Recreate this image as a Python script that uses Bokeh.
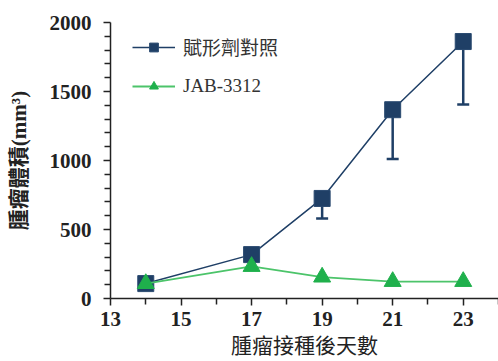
from bokeh.plotting import figure
from bokeh.models import FixedTicker, Legend, LegendItem, Range1d
from bokeh.embed import file_html
from bokeh.resources import INLINE

days = [14, 17, 19, 21, 23]
control = [108, 318, 725, 1368, 1862]
control_err_low = [0, 0, 145, 358, 456]
jab = [108, 232, 155, 123, 123]

x_ticks = [13, 15, 17, 19, 21, 23]
x_minor = [14, 16, 18, 20, 22, 24]
y_ticks = [0, 500, 1000, 1500, 2000]
y_minor = [100, 200, 300, 400, 600, 700, 800, 900, 1100, 1200, 1300, 1400, 1600, 1700, 1800, 1900]

navy = "#1f3f66"
green = "#1fb04c"
green_line = "#4cc46a"

p = figure(width=498, height=361, output_backend="svg", toolbar_location=None,
           x_range=Range1d(13, 24), y_range=Range1d(0, 2000),
           min_border_left=110, min_border_right=0, min_border_top=22, min_border_bottom=63)
p.outline_line_color = None
p.xgrid.visible = False
p.ygrid.visible = False
p.background_fill_color = "white"
p.border_fill_color = "white"

lower = [v - e for v, e in zip(control, control_err_low)]
err_x = [d for d, e in zip(days, control_err_low) if e > 0]
err_top = [v for v, e in zip(control, control_err_low) if e > 0]
err_bot = [l for l, e in zip(lower, control_err_low) if e > 0]
p.segment(x0=err_x, y0=err_top, x1=err_x, y1=err_bot, line_color=navy, line_width=2.5)
p.scatter(err_x, err_bot, marker="dash", size=12, line_color=navy, line_width=2.5)

l1 = p.line(days, control, line_color=navy, line_width=1.5)
s1 = p.scatter(days, control, marker="square", size=16, fill_color=navy, line_color="#2a4a70", line_width=1)
l2 = p.line(days, jab, line_color=green_line, line_width=1.8)
s2 = p.scatter(days, jab, marker="triangle", size=17, fill_color=green, line_color=green, line_width=1)

legend = Legend(items=[LegendItem(label="賦形劑對照", renderers=[l1, s1]),
                       LegendItem(label="JAB-3312", renderers=[l2, s2])],
                location=(22, 201), glyph_width=43, glyph_height=22, label_height=22,
                spacing=15, padding=0, margin=0, label_standoff=8,
                border_line_alpha=0, background_fill_alpha=0,
                label_text_font="Liberation Serif, Noto Sans CJK TC", label_text_font_size="19px",
                label_text_color="#333333")
p.add_layout(legend)

for ax in (p.xaxis[0], p.yaxis[0]):
    ax.axis_line_color = "#222222"
    ax.axis_line_width = 1.5
    ax.major_tick_line_color = "#222222"
    ax.minor_tick_line_color = "#222222"
    ax.major_tick_line_width = 1.5
    ax.minor_tick_line_width = 1.5
    ax.major_tick_in = 0
    ax.major_tick_out = 7
    ax.minor_tick_in = 0
    ax.minor_tick_out = 6
    ax.major_label_text_font = "Liberation Serif"
    ax.major_label_text_font_style = "bold"
    ax.major_label_text_font_size = "21px"
    ax.major_label_text_color = "#222222"

p.xaxis.ticker = FixedTicker(ticks=x_ticks, minor_ticks=x_minor)
p.yaxis.ticker = FixedTicker(ticks=y_ticks, minor_ticks=y_minor)
p.xaxis.major_label_standoff = 6
p.yaxis.major_label_standoff = 12

p.xaxis.axis_label = "腫瘤接種後天數"
p.xaxis.axis_label_text_font = "Noto Sans CJK TC"
p.xaxis.axis_label_text_font_style = "normal"
p.xaxis.axis_label_text_font_size = "21px"
p.xaxis.axis_label_text_color = "#222222"
p.xaxis.axis_label_standoff = 0

p.yaxis.axis_label = "腫瘤體積(mm³)"
p.yaxis.axis_label_text_font = "Liberation Serif, Noto Sans CJK TC"
p.yaxis.axis_label_text_font_style = "bold"
p.yaxis.axis_label_text_font_size = "21px"
p.yaxis.axis_label_text_color = "#222222"
p.yaxis.axis_label_standoff = 16

open("out.html", "w").write(file_html(p, INLINE))
